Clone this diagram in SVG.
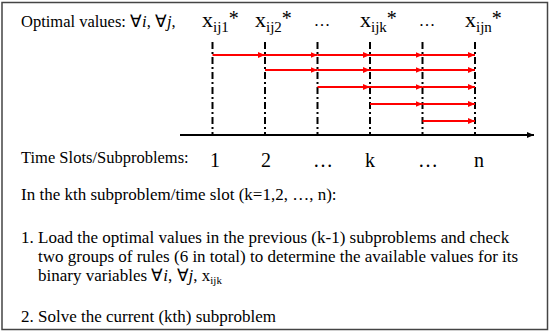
<svg xmlns="http://www.w3.org/2000/svg" width="550" height="332" viewBox="0 0 550 332">
<defs>
<style>
.t{font-family:"Liberation Serif","Times New Roman",serif;font-size:16.5px;fill:#000}
.d{font-family:"Liberation Serif","Times New Roman",serif;font-size:17px;fill:#000}
.xl{font-family:"Liberation Serif","Times New Roman",serif;font-size:22px;fill:#000}
.sub{font-size:15px}
.ast{font-size:20px}
.num{font-family:"Liberation Serif","Times New Roman",serif;font-size:20px;fill:#000;text-anchor:middle}
.it{font-style:italic}
.vl{stroke:#000;stroke-width:2;stroke-dasharray:7,3,2,3;fill:none}
.ra{stroke:#ff0000;stroke-width:2;fill:none;marker-end:url(#rh)}
</style>
<marker id="rh" markerUnits="userSpaceOnUse" markerWidth="7" markerHeight="6" refX="7" refY="3" orient="auto"><path d="M0,0 L7,3 L0,6 z" fill="#ff0000"/></marker>
<marker id="bh" markerUnits="userSpaceOnUse" markerWidth="7" markerHeight="6" refX="7" refY="3" orient="auto"><path d="M0,0 L7,3 L0,6 z" fill="#000"/></marker>
</defs>
<rect x="2" y="2.5" width="545.5" height="327" fill="#fff" stroke="#444" stroke-width="1.5"/>

<g id="header">
<text class="t" x="21" y="27">Optimal values: ∀<tspan class="it">i</tspan>, ∀<tspan class="it">j</tspan>,</text>
</g>
<g id="label-x1"><text class="xl" x="202" y="27">x<tspan class="sub" dy="5">ij1</tspan><tspan class="ast" dy="-7">*</tspan></text></g>
<g id="label-x2"><text class="xl" x="255" y="27">x<tspan class="sub" dy="5">ij2</tspan><tspan class="ast" dy="-7">*</tspan></text></g>
<g id="label-dots1"><text class="t" x="322" y="26" text-anchor="middle">…</text></g>
<g id="label-xk"><text class="xl" x="360" y="27">x<tspan class="sub" dy="5">ijk</tspan><tspan class="ast" dy="-7">*</tspan></text></g>
<g id="label-dots2"><text class="t" x="427" y="26" text-anchor="middle">…</text></g>
<g id="label-xn"><text class="xl" x="465" y="27">x<tspan class="sub" dy="5">ijn</tspan><tspan class="ast" dy="-7">*</tspan></text></g>

<g id="slot-lines">
<line class="vl" x1="212.5" y1="42" x2="212.5" y2="135"/>
<line class="vl" x1="265" y1="42" x2="265" y2="135"/>
<line class="vl" x1="317.5" y1="42" x2="317.5" y2="135"/>
<line class="vl" x1="370" y1="42" x2="370" y2="135"/>
<line class="vl" x1="422.5" y1="42" x2="422.5" y2="135"/>
<line class="vl" x1="475" y1="42" x2="475" y2="135"/>
</g>

<g id="connectors">
<line class="ra" x1="212.5" y1="55" x2="265" y2="55"/>
<line class="ra" x1="265" y1="55" x2="317.5" y2="55"/>
<line class="ra" x1="317.5" y1="55" x2="370" y2="55"/>
<line class="ra" x1="370" y1="55" x2="422.5" y2="55"/>
<line class="ra" x1="422.5" y1="55" x2="475" y2="55"/>

<line class="ra" x1="265" y1="70" x2="317.5" y2="70"/>
<line class="ra" x1="317.5" y1="70" x2="370" y2="70"/>
<line class="ra" x1="370" y1="70" x2="422.5" y2="70"/>
<line class="ra" x1="422.5" y1="70" x2="475" y2="70"/>

<line class="ra" x1="317.5" y1="87" x2="370" y2="87"/>
<line class="ra" x1="370" y1="87" x2="422.5" y2="87"/>
<line class="ra" x1="422.5" y1="87" x2="475" y2="87"/>

<line class="ra" x1="370" y1="104" x2="422.5" y2="104"/>
<line class="ra" x1="422.5" y1="104" x2="475" y2="104"/>

<line class="ra" x1="422.5" y1="121" x2="475" y2="121"/>

<line x1="180" y1="135" x2="534" y2="135" stroke="#000" stroke-width="2" marker-end="url(#bh)"/>
</g>

<g id="axis-labels">
<text class="t" x="21" y="163">Time Slots/Subproblems:</text>
<text class="num" x="215" y="167">1</text>
<text class="num" x="266" y="167">2</text>
<text class="num" x="323" y="167">…</text>
<text class="num" x="370" y="167">k</text>
<text class="num" x="428" y="167">…</text>
<text class="num" x="479" y="167">n</text>
</g>

<g id="description">
<text class="d" x="21" y="200">In the kth subproblem/time slot (k=1,2, …, n):</text>
<text class="d" x="21" y="243">1.</text>
<text class="d" x="38" y="243">Load the optimal values in the previous (k-1) subproblems and check</text>
<text class="d" x="38" y="262">two groups of rules (6 in total) to determine the available values for its</text>
<text class="d" x="38" y="281">binary variables ∀<tspan class="it">i</tspan>, ∀<tspan class="it">j</tspan>, x<tspan font-size="11" dy="3">ijk</tspan></text>
<text class="d" x="21" y="322">2.</text>
<text class="d" x="38" y="322">Solve the current (kth) subproblem</text>
</g>
</svg>
